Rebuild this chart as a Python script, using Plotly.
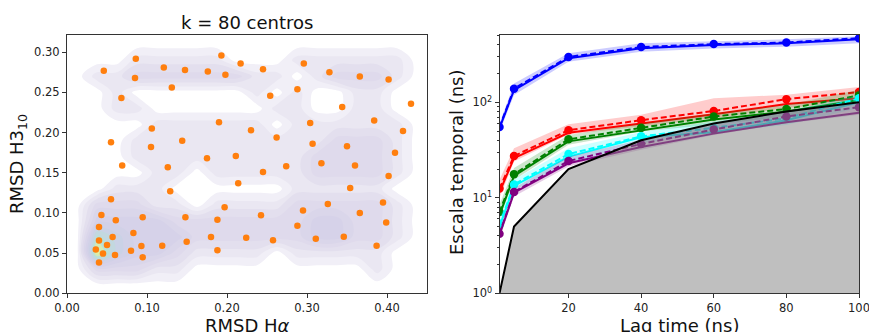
import plotly.graph_objects as go

# ---------------- Left panel data ----------------
centers_x = [0.046, 0.086, 0.085, 0.121, 0.1475, 0.176, 0.193, 0.198, 0.217, 0.245,
             0.296, 0.328, 0.366, 0.402, 0.131, 0.068, 0.254, 0.288, 0.344, 0.430,
             0.190, 0.106, 0.230, 0.304, 0.384, 0.420, 0.055, 0.105, 0.144, 0.262,
             0.307, 0.350, 0.410, 0.069, 0.126, 0.175, 0.211, 0.274, 0.318, 0.360,
             0.245, 0.402, 0.214, 0.129, 0.354, 0.055, 0.395, 0.326, 0.197, 0.295,
             0.043, 0.0946, 0.061, 0.148, 0.188, 0.2425, 0.366, 0.399, 0.040, 0.288,
             0.083, 0.057, 0.180, 0.224, 0.311, 0.346, 0.2575, 0.040, 0.1496, 0.050,
             0.093, 0.119, 0.387, 0.036, 0.080, 0.188, 0.045, 0.060, 0.0946, 0.040]
centers_y = [0.277, 0.292, 0.268, 0.281, 0.278, 0.276, 0.296, 0.272, 0.286, 0.279,
             0.286, 0.275, 0.270, 0.266, 0.256, 0.243, 0.246, 0.254, 0.232, 0.236,
             0.213, 0.205, 0.203, 0.212, 0.215, 0.202, 0.188, 0.182, 0.190, 0.194,
             0.186, 0.183, 0.175, 0.159, 0.157, 0.168, 0.171, 0.158, 0.162, 0.159,
             0.151, 0.146, 0.137, 0.127, 0.131, 0.117, 0.113, 0.111, 0.107, 0.103,
             0.0975, 0.0946, 0.091, 0.0946, 0.0917, 0.097, 0.100, 0.088, 0.0826, 0.084,
             0.075, 0.070, 0.070, 0.069, 0.068, 0.0705, 0.066, 0.0656, 0.0643, 0.060,
             0.059, 0.0593, 0.0593, 0.0544, 0.0531, 0.0535, 0.0494, 0.0477, 0.0448, 0.0382]

# density levels (coarse grid), rows listed top -> bottom
density_x = [0.0125, 0.0375, 0.0625, 0.0875, 0.1125, 0.1375, 0.1625, 0.1875, 0.2125,
             0.2375, 0.2625, 0.2875, 0.3125, 0.3375, 0.3625, 0.3875, 0.4125, 0.4375]
density_y = [0.01, 0.03, 0.05, 0.07, 0.09, 0.11, 0.13, 0.15, 0.17, 0.19, 0.21, 0.23,
             0.25, 0.27, 0.29, 0.31]
density_rows_top_down = [
    "000000000000000000",
    "000111110001111110",
    "011222222110122210",
    "001000000101001100",
    "001100000011001100",
    "000011111101111110",
    "000111111111122210",
    "000111111111222210",
    "000011011111222210",
    "001110000001111100",
    "022211011112222210",
    "033332222222332210",
    "054333222222332210",
    "064332111101111100",
    "022211000000000100",
    "000000000000000000",
]

x_ticks_left = [0.0, 0.1, 0.2, 0.3, 0.4]
y_ticks_left = [0.0, 0.05, 0.10, 0.15, 0.20, 0.25, 0.30]

# ---------------- Right panel data ----------------
lag_times = [1, 5, 20, 40, 60, 80, 100]

blue_ml   = [54, 134, 290, 368, 398, 415, 458]
blue_mean = [55, 139, 299, 379, 407, 423, 470]
blue_lo   = [49, 119, 266, 339, 367, 381, 416]
blue_hi   = [60, 157, 326, 415, 437, 457, 491]

red_ml   = [11.5, 26, 48, 60, 75, 96, 110]
red_mean = [12.5, 27.4, 51, 65, 81, 108, 128]
red_lo   = [10, 24, 46, 56, 68, 87, 102]
red_hi   = [15.5, 33, 59, 74, 110, 120, 145]

green_ml   = [6.6, 17, 39, 51, 66, 80, 106]
green_mean = [7.1, 17.7, 41, 54, 71, 85, 118]
green_lo   = [6, 15.4, 36, 49.5, 58.5, 71, 98]
green_hi   = [8.5, 20.5, 45.6, 60, 77, 94, 135]

cyan_ml   = [5.0, 13.3, 27, 43, 48.5, 65, 100]
cyan_mean = [5.2, 13.8, 28.7, 44, 54, 68, 110]
cyan_lo   = [4.5, 12, 23, 37, 48, 58, 87]
cyan_hi   = [6, 15.5, 33, 49, 63, 80, 120]

purple_ml   = [4.1, 11.3, 23, 34, 47, 62, 78]
purple_mean = [4.2, 11.5, 24.3, 36.6, 52, 71, 89]
purple_lo   = [3.7, 10.3, 21.3, 31.8, 45.6, 60, 74]
purple_hi   = [4.7, 12.7, 27, 40.5, 58, 80, 102]

x_ticks_right = [20, 40, 60, 80, 100]
y_ticks_right = [1, 10, 100]
y_ticktext_right = ["10<sup>0</sup>", "10<sup>1</sup>", "10<sup>2</sup>"]
y_minor_right = [2, 3, 4, 5, 6, 7, 8, 9, 20, 30, 40, 50, 60, 70, 80, 90, 200, 300, 400, 500]
floor_values = [1, 1, 1, 1, 1, 1, 1]

series = [
    ("blue", (0, 0, 255), blue_ml, blue_mean, blue_lo, blue_hi),
    ("red", (255, 0, 0), red_ml, red_mean, red_lo, red_hi),
    ("green", (0, 128, 0), green_ml, green_mean, green_lo, green_hi),
    ("cyan", (0, 255, 255), cyan_ml, cyan_mean, cyan_lo, cyan_hi),
    ("purple", (128, 0, 128), purple_ml, purple_mean, purple_lo, purple_hi),
]

FONT = "DejaVu Sans"
W, H = 869, 332

fig = go.Figure()

# density background
z = [[int(c) for c in row] for row in reversed(density_rows_top_down)]
fig.add_trace(go.Contour(
    x=density_x, y=density_y, z=z, xaxis="x", yaxis="y",
    zmin=0, zmax=6, showscale=False, hoverinfo="skip",
    contours=dict(start=0.25, end=6, size=0.5, coloring="fill"),
    line=dict(width=0),
    colorscale=[[0, "#ffffff"], [0.035, "#ffffff"], [0.04, "#f1eff7"], [0.125, "#ebe8f3"],
                [0.2, "#e4e0ef"], [0.375, "#dcd7eb"], [0.54, "#d4d0e8"], [0.7, "#c9d2e6"],
                [0.875, "#b9e1d6"], [1.0, "#e3f0a0"]],
))
fig.add_trace(go.Scatter(
    x=centers_x, y=centers_y, mode="markers", xaxis="x", yaxis="y",
    marker=dict(size=6.5, color="#ff7f0e"), showlegend=False))

# right panel
for name, rgb, ml, mean, lo, hi in series:
    col = "rgb(%d,%d,%d)" % rgb
    fig.add_trace(go.Scatter(x=lag_times, y=hi, mode="lines", line=dict(width=0),
                             xaxis="x2", yaxis="y2", showlegend=False, hoverinfo="skip"))
    fig.add_trace(go.Scatter(x=lag_times, y=lo, mode="lines", line=dict(width=0),
                             fill="tonexty", fillcolor="rgba(%d,%d,%d,0.2)" % rgb,
                             xaxis="x2", yaxis="y2", showlegend=False, hoverinfo="skip"))
    fig.add_trace(go.Scatter(x=lag_times, y=ml, mode="lines", line=dict(width=2, color=col),
                             xaxis="x2", yaxis="y2", showlegend=False))
    fig.add_trace(go.Scatter(x=lag_times, y=mean, mode="lines+markers",
                             line=dict(width=2, color=col, dash="6px,3px"),
                             marker=dict(size=8.5, color=col),
                             xaxis="x2", yaxis="y2", showlegend=False))

fig.add_trace(go.Scatter(x=lag_times, y=floor_values, mode="lines", line=dict(width=0),
                         xaxis="x2", yaxis="y2", showlegend=False, hoverinfo="skip"))
fig.add_trace(go.Scatter(x=lag_times, y=lag_times, mode="lines", line=dict(width=0),
                         fill="tonexty", fillcolor="rgba(128,128,128,0.5)",
                         xaxis="x2", yaxis="y2", showlegend=False, hoverinfo="skip"))
fig.add_trace(go.Scatter(x=lag_times, y=lag_times, mode="lines",
                         line=dict(width=2, color="black"),
                         xaxis="x2", yaxis="y2", showlegend=False))

# domains in paper coords
L_x = [67 / W, 427 / W]
R_x = [499.5 / W, 859 / W]
Y_dom = [(H - 293.3) / H, (H - 35) / H]

axis_common = dict(showgrid=False, zeroline=False, showline=True, mirror=True,
                   linecolor="#333333", linewidth=1, ticks="outside", ticklen=4,
                   automargin=False, ticklabeloverflow="allow",
                   tickcolor="#333333", tickfont=dict(family=FONT, size=11.5, color="#222222"))

fig.update_layout(
    width=W, height=H, margin=dict(l=0, r=0, t=0, b=0, autoexpand=False),
    paper_bgcolor="white", plot_bgcolor="white", showlegend=False,
    xaxis=dict(domain=L_x, range=[0, 0.45], tickvals=x_ticks_left, tickformat=".2f",
               anchor="y", **axis_common),
    yaxis=dict(domain=Y_dom, range=[0, 0.3215], tickvals=y_ticks_left, tickformat=".2f",
               anchor="x", **axis_common),
    xaxis2=dict(domain=R_x, range=[1, 100], tickvals=x_ticks_right, anchor="y2",
                **axis_common),
    yaxis2=dict(domain=Y_dom, type="log", range=[0, 2.705], tickvals=y_ticks_right,
                ticktext=y_ticktext_right, anchor="x2",
                minor=dict(ticks="outside", ticklen=2, tickcolor="#333333",
                           tickmode="array", tickvals=y_minor_right),
                **axis_common),
)

tfont = dict(family=FONT, size=18, color="#111111")
ann = [
    dict(text="k = 80 centros", x=(L_x[0] + L_x[1]) / 2, y=(H - 22) / H, xref="paper",
         yref="paper", showarrow=False, xanchor="center", yanchor="middle", font=tfont),
    dict(text="RMSD H<i>α</i>", x=(L_x[0] + L_x[1]) / 2, y=(H - 325) / H, xref="paper",
         yref="paper", showarrow=False, xanchor="center", yanchor="middle", font=tfont),
    dict(text="Lag time (ns)", x=(R_x[0] + R_x[1]) / 2, y=(H - 325) / H, xref="paper",
         yref="paper", showarrow=False, xanchor="center", yanchor="middle", font=tfont),
    dict(text="RMSD H3<sub>10</sub>", x=18 / W, y=(H - 164) / H, xref="paper",
         yref="paper", showarrow=False, xanchor="center", yanchor="middle",
         textangle=-90, font=tfont),
    dict(text="Escala temporal (ns)", x=456 / W, y=(H - 162) / H, xref="paper",
         yref="paper", showarrow=False, xanchor="center", yanchor="middle",
         textangle=-90, font=tfont),
]
fig.update_layout(annotations=ann)

fig.write_html("out.html", config={"displayModeBar": False},
               post_script="document.body.style.margin='0px';document.body.style.overflow='hidden';")
